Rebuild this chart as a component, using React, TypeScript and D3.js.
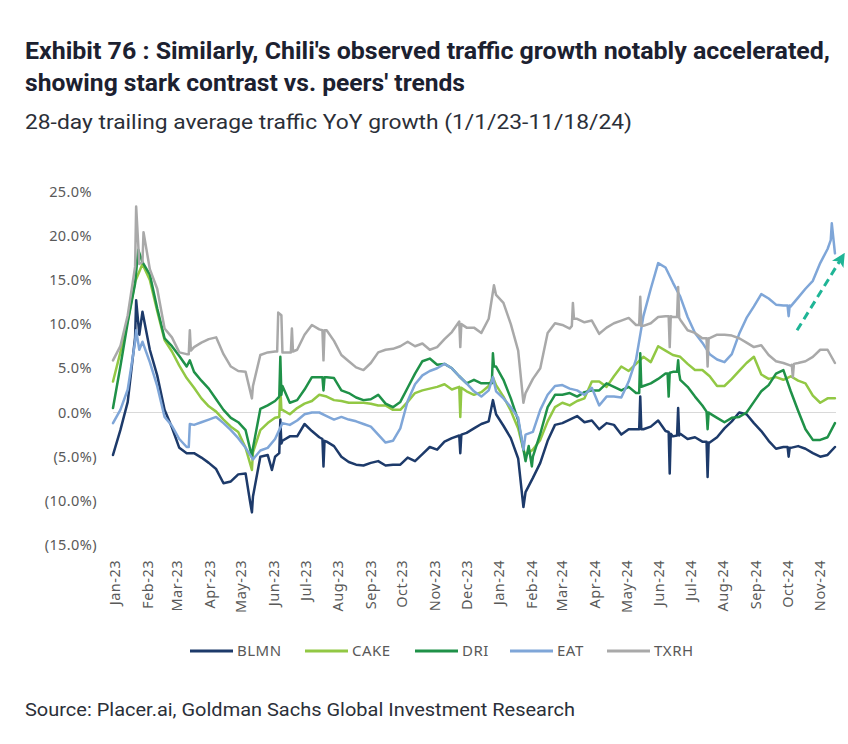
import React from "react";
import * as d3 from "d3";

// ---------- DATA ----------
const seriesNames = ["BLMN", "CAKE", "DRI", "EAT", "TXRH"];
const seriesColors = ["#1d3a6a", "#92c844", "#1f9148", "#7fa6d8", "#a9a9a9"];

const startDate = new Date(2023, 0, 1);
const endDate = new Date(2024, 10, 18);

// weekly readings starting 1/1/23 (every 7 days), % YoY
const blmnWeekly = [-4.8, -2.0, 1.2, 8.5, 11.4, 7.1, 4.2, 0.3, -1.7, -4.0,
  -4.6, -4.6, -5.1, -5.7, -6.4, -8.0, -7.8, -7.0, -6.9, -9.5,
  -5.0, -4.8, -5.0, -3.2, -2.7, -2.7, -1.3, -2.1, -2.8, -3.3,
  -3.8, -5.0, -5.6, -5.9, -6.0, -5.7, -5.5, -6.0, -5.9, -5.9,
  -5.1, -5.5, -4.7, -3.9, -4.2, -3.3, -2.9, -2.6, -2.3, -1.8,
  -1.3, -1.0, -0.2, -1.5, -2.9, -5.2, -9.0, -7.4, -5.7, -3.2,
  -1.4, -1.2, -0.8, -0.4, -1.1, -0.9, -1.9, -1.2, -1.4, -2.5,
  -1.9, -1.9, -1.9, -1.6, -0.9, -2.1, -2.7, -2.4, -3.0, -2.8,
  -3.3, -3.4, -2.8, -1.8, -1.0, 0.0, -0.2, -1.2, -2.1, -3.2,
  -4.1, -3.9, -4.0, -3.8, -4.1, -4.6, -5.0, -4.8, -3.9];

const cakeWeekly = [3.5, 6.8, 10.4, 14.8, 16.8, 15.0, 11.5, 8.2, 6.9, 5.3,
  3.9, 2.8, 1.6, 0.7, 0.1, -0.8, -1.6, -2.2, -4.0, -4.5,
  -2.0, -1.2, -0.6, 0.3, -0.2, 0.5, 1.0, 1.3, 2.0, 1.8,
  1.4, 1.3, 1.1, 1.1, 1.1, 1.0, 0.8, 0.8, 0.3, 0.3,
  1.2, 2.2, 2.5, 2.7, 2.9, 3.2, 2.6, 2.9, 2.4, 2.0,
  2.3, 3.0, 3.1, 1.8, 0.2, -1.8, -4.8, -4.2, -3.1, -1.0,
  0.6, 1.1, 0.8, 1.3, 1.6, 3.5, 3.5, 2.9, 4.1, 5.2,
  4.7, 5.5, 6.3, 5.7, 7.5, 7.0, 6.5, 6.3, 5.5, 4.8,
  4.8, 4.1, 3.0, 3.0, 3.8, 4.7, 5.6, 6.3, 4.3, 3.8,
  4.0, 3.7, 4.1, 3.6, 3.3, 1.9, 1.1, 1.6, 1.6];

const driWeekly = [0.5, 5.2, 10.2, 14.6, 17.0, 15.6, 11.8, 8.4, 7.5, 6.4,
  5.2, 4.6, 3.6, 2.7, 1.5, 0.3, -0.6, -1.1, -2.0, -4.0,
  0.4, 0.8, 1.3, 3.0, 1.1, 1.4, 2.6, 4.0, 4.0, 4.0,
  3.9, 2.5, 2.2, 1.7, 1.4, 1.5, 2.0, 1.0, 0.6, 1.2,
  2.8, 4.4, 5.8, 6.1, 5.4, 5.5, 5.0, 4.1, 3.3, 3.7,
  3.3, 3.3, 5.2, 3.7, 1.6, -0.9, -5.5, -5.0, -2.4, 0.6,
  2.0, 2.0, 2.2, 1.8, 2.3, 2.5, 2.5, 3.3, 2.9, 2.5,
  2.9, 2.2, 3.0, 3.3, 3.8, 4.4, 4.6, 3.7, 2.9, 1.8,
  0.8, -0.1, -0.6, -1.1, -0.6, -0.5, 0.0, 1.2, 2.4, 3.1,
  4.4, 4.8, 2.4, 0.2, -1.9, -3.1, -3.1, -2.8, -1.2];

const eatWeekly = [-1.2, 0.3, 2.6, 8.0, 8.0, 5.7, 3.0, -0.5, -1.5, -3.0,
  -3.9, -1.4, -1.1, -0.8, -0.5, -1.2, -2.0, -2.9, -4.0, -5.3,
  -4.3, -4.0, -3.0, -1.2, -1.4, -0.9, -0.2, 0.0, 0.0, -0.4,
  -0.8, -0.5, -0.8, -1.0, -1.3, -1.6, -2.5, -3.4, -3.2, -1.8,
  1.3, 3.2, 4.2, 4.7, 5.0, 5.5, 5.0, 4.1, 3.3, 2.4,
  1.8, 2.5, 2.4, 1.6, 0.6, -0.6, -2.5, -2.2, 0.3, 2.0,
  3.0, 3.1, 2.7, 2.5, 2.0, 2.8, 0.8, 1.8, 1.8, 1.7,
  3.5, 6.0, 10.9, 14.0, 16.9, 16.4, 14.7, 13.1, 10.8, 9.0,
  7.9, 6.6, 6.0, 5.7, 6.6, 8.9, 10.7, 12.0, 13.4, 12.9,
  12.2, 12.1, 12.0, 13.0, 14.0, 14.9, 16.9, 18.5, 18.0];

const txrhWeekly = [5.9, 7.5, 11.0, 16.5, 17.0, 16.2, 14.0, 9.5, 8.5, 6.8,
  6.6, 7.4, 7.9, 8.3, 8.5, 6.6, 5.2, 4.7, 4.6, 3.0,
  6.5, 6.8, 6.9, 6.8, 6.8, 7.1, 8.8, 9.9, 9.4, 9.3,
  8.1, 6.5, 5.8, 5.1, 4.8, 5.6, 6.8, 7.1, 7.2, 7.5,
  8.0, 7.5, 7.8, 7.1, 7.4, 8.3, 9.1, 10.3, 9.6, 9.6,
  9.0, 10.6, 13.3, 12.4, 10.0, 7.0, 2.2, 3.8, 5.0, 9.0,
  10.1, 9.9, 9.5, 10.6, 10.2, 10.4, 8.9, 9.6, 10.1, 10.4,
  10.7, 9.9, 9.8, 10.1, 10.8, 10.9, 10.8, 10.5, 9.3, 9.0,
  8.4, 8.4, 8.8, 8.8, 8.7, 8.4, 7.9, 7.4, 7.6, 6.5,
  5.8, 5.6, 5.3, 5.6, 5.8, 6.3, 7.1, 7.1, 5.6];

// daily readings between the weekly points (peaks, holiday spikes and the days around them)
const blmnSpikes: [string, number][] = [["2023-01-23", 12.7], ["2023-01-26", 8.8], ["2023-05-11", -9.9], ["2023-05-13", -11.3],
  ["2023-06-01", -6.5], ["2023-06-08", -4.6], ["2023-06-09", -0.8], ["2023-06-10", -3.5],
  ["2023-07-19", -3.0], ["2023-07-20", -6.1], ["2023-07-21", -3.2],
  ["2023-11-26", -2.6], ["2023-11-27", -4.6], ["2023-11-28", -2.5], ["2023-12-28", 1.4],
  ["2024-01-26", -10.7], ["2024-05-15", -1.9], ["2024-05-16", 1.8], ["2024-05-17", -1.9],
  ["2024-06-12", -2.2], ["2024-06-13", -6.9], ["2024-06-14", -2.4],
  ["2024-06-20", -2.6], ["2024-06-21", 0.5], ["2024-06-22", -2.6],
  ["2024-07-18", -3.3], ["2024-07-19", -7.3], ["2024-07-20", -3.4],
  ["2024-10-03", -3.9], ["2024-10-04", -5.0], ["2024-10-05", -4.0]];
const cakeSpikes: [string, number][] = [["2023-05-13", -6.5], ["2023-06-08", -0.5], ["2023-06-09", 2.9], ["2023-06-10", 0.3],
  ["2023-11-26", 2.9], ["2023-11-27", -0.5], ["2023-11-28", 2.8], ["2023-12-28", 4.0], ["2024-01-26", -4.2]];
const driSpikes: [string, number][] = [["2023-01-25", 18.4], ["2023-03-15", 5.9], ["2023-05-13", -5.0],
  ["2023-06-08", 1.8], ["2023-06-09", 6.3], ["2023-06-10", 2.0],
  ["2023-07-19", 4.0], ["2023-07-20", 2.5], ["2023-07-21", 4.0],
  ["2023-12-27", 3.3], ["2023-12-28", 6.7], ["2023-12-29", 5.2],
  ["2024-01-31", -3.8], ["2024-02-03", -6.1],
  ["2024-05-15", 2.2], ["2024-05-16", 6.7], ["2024-05-17", 2.9],
  ["2024-06-11", 4.4], ["2024-06-12", 1.8], ["2024-06-13", 4.5],
  ["2024-06-20", 4.6], ["2024-06-21", 5.9], ["2024-06-22", 4.4],
  ["2024-07-18", 0.1], ["2024-07-19", -1.9], ["2024-07-20", 0.0]];
const eatSpikes: [string, number][] = [["2023-01-23", 9.3], ["2023-01-26", 7.1], ["2023-03-14", -3.9], ["2023-03-15", -1.3],
  ["2023-12-28", 4.0], ["2024-01-26", -4.2], ["2024-10-03", 12.1], ["2024-10-04", 10.9], ["2024-10-05", 12.1],
  ["2024-11-13", 19.5], ["2024-11-14", 21.4]];
const txrhSpikes: [string, number][] = [["2023-01-23", 23.3], ["2023-01-26", 16.8], ["2023-01-30", 20.4],
  ["2023-03-14", 6.6], ["2023-03-15", 9.3], ["2023-03-16", 7.0],
  ["2023-05-13", 1.6], ["2023-06-06", 6.9], ["2023-06-07", 11.3], ["2023-06-10", 11.0],
  ["2023-06-19", 6.8], ["2023-06-20", 9.5], ["2023-06-21", 6.9],
  ["2023-07-19", 9.3], ["2023-07-20", 5.9], ["2023-07-21", 9.3],
  ["2023-11-26", 10.3], ["2023-11-27", 7.4], ["2023-11-28", 10.0],
  ["2023-12-29", 14.4], ["2024-01-26", 1.1],
  ["2024-03-12", 9.8], ["2024-03-13", 12.4], ["2024-03-14", 10.6],
  ["2024-05-15", 9.9], ["2024-05-16", 13.1], ["2024-05-17", 9.8],
  ["2024-06-12", 10.9], ["2024-06-13", 7.4], ["2024-06-14", 10.9],
  ["2024-06-20", 10.8], ["2024-06-21", 14.2], ["2024-06-22", 10.7],
  ["2024-07-18", 8.4], ["2024-07-19", 5.2], ["2024-07-20", 8.4],
  ["2024-10-07", 5.4], ["2024-10-08", 4.0], ["2024-10-09", 5.5]];

const yTicks = [25, 20, 15, 10, 5, 0, -5, -10, -15];

// annotation arrow (date, %)
const arrowFrom: [string, number] = ["2024-10-12", 9.3];
const arrowTo: [string, number] = ["2024-11-25", 17.8];

const titleLines = [
  "Exhibit 76 : Similarly, Chili's observed traffic growth notably accelerated,",
  "showing stark contrast vs. peers' trends",
];
const subtitle = "28-day trailing average traffic YoY growth (1/1/23-11/18/24)";
const sourceText = "Source: Placer.ai, Goldman Sachs Global Investment Research";

// ---------- BUILD ----------
type Pt = { date: Date; value: number };
const parse = d3.timeParse("%Y-%m-%d");

function build(weekly: number[], spikes: [string, number][]): Pt[] {
  const pts: Pt[] = weekly.map((v, i) => ({ date: d3.timeDay.offset(startDate, 7 * i), value: v }));
  spikes.forEach(([d, v]) => pts.push({ date: parse(d) as Date, value: v }));
  return pts.sort((a, b) => +a.date - +b.date);
}

const seriesData = [
  build(blmnWeekly, blmnSpikes),
  build(cakeWeekly, cakeSpikes),
  build(driWeekly, driSpikes),
  build(eatWeekly, eatSpikes),
  build(txrhWeekly, txrhSpikes),
];

const fmtPct = (v: number) => (v < 0 ? `(${Math.abs(v).toFixed(1)}%)` : `${v.toFixed(1)}%`);
const fmtMonth = d3.timeFormat("%b-%y");

export default function App() {
  const x = d3.scaleTime().domain([startDate, endDate]).range([113, 836]);
  const y = d3.scaleLinear().domain([-15, 25]).range([545.1, 191.5]);
  const line = d3.line<Pt>().x((d) => x(d.date)).y((d) => y(d.value));
  const months = d3.timeMonth.range(startDate, new Date(2024, 10, 2));
  const axisFont = "'Noto Sans', 'Open Sans', sans-serif";
  const legendX = [190, 305, 415, 510, 607];

  const ax1 = x(parse(arrowFrom[0]) as Date), ay1 = y(arrowFrom[1]);
  const ax2 = x(parse(arrowTo[0]) as Date), ay2 = y(arrowTo[1]);

  return (
    <svg width={848} height={744} style={{ position: "absolute", left: 0, top: 0, background: "#fff" }}>
      <defs>
        <marker id="ah" viewBox="0 0 10 10" refX="8" refY="5" markerWidth="4.5" markerHeight="4.5" orient="auto" markerUnits="strokeWidth">
          <path d="M0,0 L10,5 L0,10 L2.5,5 Z" fill="#1fb596" />
        </marker>
      </defs>
      <rect width={848} height={744} fill="#fff" />
      {/* titles */}
      <g fill="#1c2130" fontFamily="Roboto, 'Noto Sans', sans-serif" fontWeight={700} fontSize={24}>
        <text x={25} y={59} textLength={805} lengthAdjust="spacingAndGlyphs">{titleLines[0]}</text>
        <text x={25} y={91} textLength={440} lengthAdjust="spacingAndGlyphs">{titleLines[1]}</text>
      </g>
      <text x={25} y={129} fill="#2b2f38" fontFamily="Roboto, 'Noto Sans', sans-serif" fontSize={20}
        textLength={607} lengthAdjust="spacingAndGlyphs">{subtitle}</text>

      {/* y axis labels */}
      <g fontFamily={axisFont} fontSize={14.5} fill="#595959" letterSpacing={0.4}>
        {yTicks.map((t) => (
          <text key={t} x={t < 0 ? 97 : 92} y={y(t)} dy="0.35em" textAnchor="end">{fmtPct(t)}</text>
        ))}
      </g>

      {/* zero line */}
      <line x1={113} x2={836} y1={y(0)} y2={y(0)} stroke="#d9d9d9" strokeWidth={1.2} />

      {/* x labels */}
      <g fontFamily={axisFont} fontSize={14.5} fill="#595959" letterSpacing={0.5}>
        {months.map((m) => (
          <text key={+m} transform={`translate(${x(m) + 2},560) rotate(-90)`} dy="0.35em" textAnchor="end">
            {fmtMonth(m)}
          </text>
        ))}
      </g>

      {/* series */}
      <g fill="none" strokeWidth={2.5} strokeLinejoin="round" strokeLinecap="round">
        {seriesData.map((s, i) => (
          <path key={seriesNames[i]} d={line(s) || ""} stroke={seriesColors[i]} />
        ))}
      </g>

      {/* arrow */}
      <line x1={ax1} y1={ay1} x2={ax2} y2={ay2} stroke="#1fb596" strokeWidth={3} strokeDasharray="8,5" markerEnd="url(#ah)" />

      {/* legend */}
      <g fontFamily={axisFont} fontSize={15} fill="#595959" letterSpacing={0.5}>
        {seriesNames.map((n, i) => (
          <g key={n}>
            <line x1={legendX[i]} x2={legendX[i] + 43} y1={651} y2={651} stroke={seriesColors[i]} strokeWidth={3} />
            <text x={legendX[i] + 47} y={651} dy="0.35em">{n}</text>
          </g>
        ))}
      </g>

      <text x={25} y={716} fill="#2b2f38" fontFamily="Roboto, 'Noto Sans', sans-serif" fontSize={18}
        textLength={550} lengthAdjust="spacingAndGlyphs">{sourceText}</text>
    </svg>
  );
}
